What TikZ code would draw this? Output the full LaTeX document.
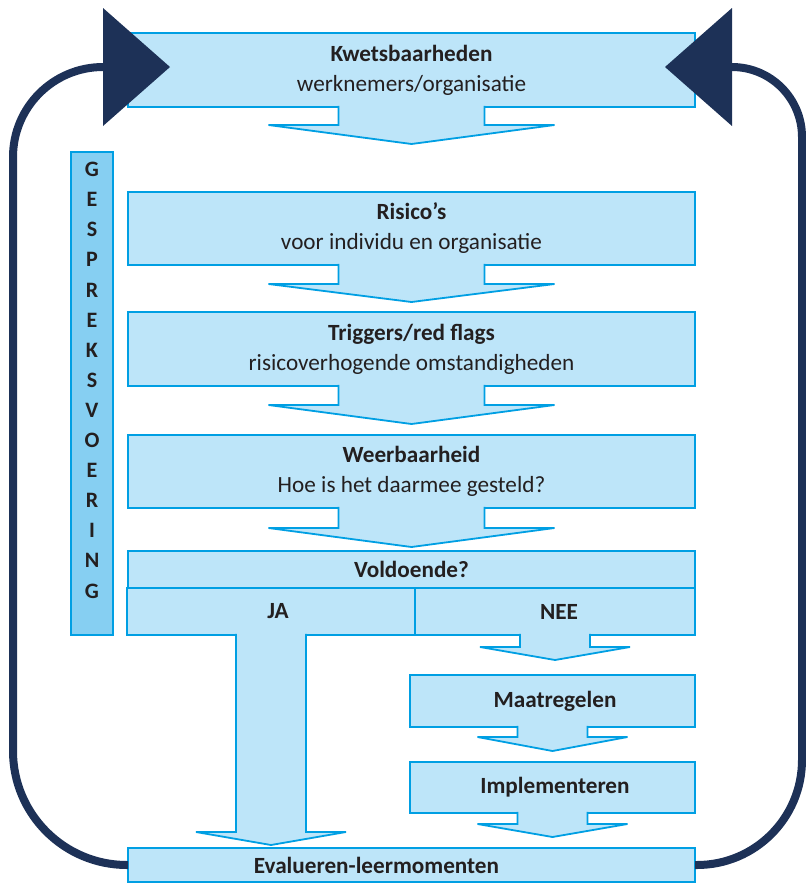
\documentclass[tikz,border=0pt]{standalone}
\usepackage{fontspec}
\setmainfont{Carlito}
\usepackage{tikz}

\definecolor{boxfill}{HTML}{BDE5F9}
\definecolor{boxline}{HTML}{009FE3}
\definecolor{sidefill}{HTML}{86CFF2}
\definecolor{loopnavy}{HTML}{1D3157}
\definecolor{inkdark}{HTML}{231F20}

\newcommand{\blockarrow}[5]{%
    \filldraw[arrowbody] ([xshift=-#2pt, yshift=1.2pt]#1) -- ++(0,{#4+1.2}) -- ++({#2-#3},0)
        -- ++(#3,#5) -- ++(#3,-#5) -- ++({#2-#3},0) -- ++(0,{-#4-1.2});}

\begin{document}
\begin{tikzpicture}[x=1pt, y=-1pt,
        box/.style={draw=boxline, fill=boxfill, line width=1.8pt, text=inkdark, inner sep=0pt,
            outer sep=0pt, align=center, font=\fontsize{23.2}{30}\selectfont},
        mainbox/.style={box, minimum width=567pt},
        arrowbody/.style={draw=boxline, fill=boxfill, line width=1.8pt},
        sidebox/.style={draw=boxline, fill=sidefill, line width=1.8pt, inner sep=0pt, outer sep=0pt},
        loopline/.style={draw=loopnavy, line width=8pt},
        looptip/.style={fill=loopnavy}]
    \useasboundingbox (0,0) rectangle (806,884);

    \node[sidebox, minimum width=42pt, minimum height=483pt] (gesprek) at (92,393.5) {};
    \node[anchor=north, inner sep=0pt, align=center, text=inkdark,
        font=\fontsize{22}{30.1}\selectfont\bfseries] (letters) at (92,162)
        {G\\E\\S\\P\\R\\E\\K\\S\\V\\O\\E\\R\\I\\N\\G};

    \node[mainbox, minimum height=74pt] (kwets) at (411.5,70)
        {\textbf{Kwetsbaarheden}\\werknemers/organisatie};
    \node[mainbox, minimum height=73pt] (risico) at (411.5,228.5)
        {\textbf{Risico’s}\\voor individu en organisatie};
    \node[mainbox, minimum height=74pt] (trigger) at (411.5,349)
        {\textbf{Triggers/red flags}\\risicoverhogende omstandigheden};
    \node[mainbox, minimum height=73pt] (weerbaar) at (411.5,471.5)
        {\textbf{Weerbaarheid}\\Hoe is het daarmee gesteld?};
    \node[mainbox, minimum height=37pt] (vold) at (411.5,569.5) {\textbf{Voldoende?}};
    \node[box, minimum width=288pt, minimum height=47pt] (ja) at (271,611.5)
        {\hspace*{14pt}\textbf{JA}};
    \node[box, minimum width=280pt, minimum height=47pt] (nee) at (555,611.5)
        {\hspace*{8pt}\textbf{NEE}};
    \node[box, minimum width=285pt, minimum height=52pt] (maatr) at (552.5,701)
        {\hspace*{5pt}\textbf{Maatregelen}};
    \node[box, minimum width=285pt, minimum height=51pt] (implem) at (552.5,787.5)
        {\hspace*{5pt}\textbf{Implementeren}};
    \node[mainbox, minimum height=34pt] (eval) at (411.5,865)
        {\textbf{Evalueren-leermomenten}\hspace*{70pt}};

    \blockarrow{kwets.south}{73}{143}{18}{19}
    \blockarrow{risico.south}{73}{143}{19}{18}
    \blockarrow{trigger.south}{73}{143}{19}{19}
    \blockarrow{weerbaar.south}{73}{143}{20}{19}
    \blockarrow{ja.south}{35}{75}{197}{13}
    \blockarrow{nee.south}{35}{75}{12}{13}
    \blockarrow{maatr.south}{35}{75}{10}{14}
    \blockarrow{implem.south}{35}{75}{11}{13}

    \coordinate (ltip) at (170,67);
    \coordinate (rtip) at (665,67);
    \draw[loopline] (eval.west) [rounded corners=114pt] -| (13,480)
        [rounded corners=90pt] |- ([xshift=-66pt]ltip);
    \draw[loopline] (eval.east) [rounded corners=105pt] -| (802,480)
        [rounded corners=70pt] |- ([xshift=66pt]rtip);
    \fill[looptip] (ltip) -- ++(-67,-59) -- ++(0,118) -- cycle;
    \fill[looptip] (rtip) -- ++(67,-59) -- ++(0,118) -- cycle;
\end{tikzpicture}
\end{document}
